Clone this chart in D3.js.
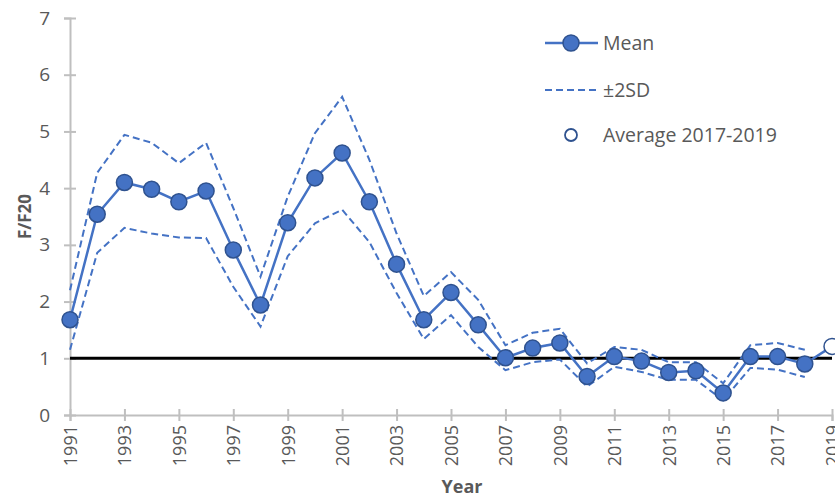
<!DOCTYPE html>
<html>
<head>
<meta charset="utf-8">
<script src="https://cdn.jsdelivr.net/npm/d3@7"></script>
<style>
  html, body { margin: 0; padding: 0; background: #fff; overflow: hidden; }
  svg { display: block; }
  text { font-family: "Open Sans", Arial, sans-serif; fill: #595959; }
</style>
</head>
<body>
<div id="chart"></div>
<script>
// datos
const years = d3.range(1991, 2020);
const meanValues = [1.68, 3.54, 4.10, 3.98, 3.76, 3.95, 2.91, 1.94, 3.39, 4.18,
  4.62, 3.76, 2.66, 1.68, 2.16, 1.59, 1.01, 1.18, 1.27, 0.68,
  1.03, 0.95, 0.75, 0.78, 0.39, 1.03, 1.03, 0.90, 1.21];
const upperValues = [2.2, 4.27, 4.94, 4.8, 4.44, 4.8, 3.65, 2.44, 3.85, 4.97,
  5.61, 4.5, 3.2, 2.1, 2.52, 2.03, 1.23, 1.45, 1.52, 0.91,
  1.2, 1.15, 0.93, 0.93, 0.56, 1.23, 1.27, 1.15];
const lowerValues = [1.15, 2.86, 3.3, 3.2, 3.13, 3.12, 2.26, 1.56, 2.8, 3.38,
  3.62, 3.05, 2.15, 1.34, 1.76, 1.2, 0.79, 0.93, 0.98, 0.5,
  0.85, 0.76, 0.62, 0.62, 0.26, 0.83, 0.8, 0.67];
const averageYear = 2019;
const referenceLevel = 1;
const yTicks = [0, 1, 2, 3, 4, 5, 6, 7];
const xTicks = d3.range(1991, 2020, 2);
const legendLabels = ["Mean", "±2SD", "Average 2017-2019"];

const width = 835, height = 500;
const margin = { top: 18, right: 3, bottom: 85, left: 70 };
const innerWidth = width - margin.left - margin.right;
const innerHeight = height - margin.top - margin.bottom;

const blue = "#4472C4", darkBlue = "#2F528F", axisGray = "#BFBFBF";

const svg = d3.select("#chart").append("svg")
  .attr("width", width).attr("height", height);

const g = svg.append("g")
  .attr("transform", `translate(${margin.left},${margin.top})`);

// escalas
const xScale = d3.scaleLinear().domain([1991, 2019]).range([0, 762]);
const yScale = d3.scaleLinear().domain([0, 7]).range([innerHeight, 0]);

// eje Y
const yAxis = g.append("g")
  .call(d3.axisLeft(yScale).tickValues(yTicks).tickFormat(d3.format("d")).tickSize(6).tickPadding(14));
yAxis.select(".domain").attr("stroke", axisGray).attr("stroke-width", 2);
yAxis.selectAll(".tick line").attr("stroke", axisGray).attr("stroke-width", 2).attr("x2", 6).attr("x1", -6);
yAxis.selectAll(".tick text").style("font-size", "19px").attr("fill", "#595959");

// eje X
const xAxis = g.append("g")
  .attr("transform", `translate(0,${innerHeight})`)
  .call(d3.axisBottom(xScale).tickValues(xTicks).tickFormat(d3.format("d")).tickSize(6));
xAxis.select(".domain").attr("stroke", axisGray).attr("stroke-width", 2);
xAxis.selectAll(".tick line").attr("stroke", axisGray).attr("stroke-width", 2).attr("y1", -6).attr("y2", 6);
xAxis.selectAll(".tick text")
  .style("font-size", "18px")
  .attr("fill", "#595959")
  .attr("text-anchor", "end")
  .attr("dy", "0.35em")
  .attr("transform", "translate(0,4) rotate(-90)")
  .attr("x", -6).attr("y", 0);

// titulos de ejes
svg.append("text")
  .attr("transform", `translate(25,${margin.top + innerHeight / 2}) rotate(-90)`)
  .attr("text-anchor", "middle")
  .attr("dy", "0.35em")
  .style("font-size", "17px").style("font-weight", "bold")
  .text("F/F20");

svg.append("text")
  .attr("x", 462).attr("y", 493)
  .attr("text-anchor", "middle")
  .style("font-size", "18px").style("font-weight", "bold")
  .text("Year");

// linea de referencia
g.append("line")
  .attr("x1", xScale(1991)).attr("x2", xScale(2019))
  .attr("y1", yScale(referenceLevel)).attr("y2", yScale(referenceLevel))
  .attr("stroke", "#000").attr("stroke-width", 3);

// bandas +-2SD
const band = d3.line().x((d, i) => xScale(years[i])).y(d => yScale(d));
[upperValues, lowerValues].forEach(vals => {
  g.append("path")
    .attr("d", band(vals))
    .attr("fill", "none")
    .attr("stroke", blue).attr("stroke-width", 2)
    .attr("stroke-dasharray", "7,4");
});

// linea media
const meanLine = d3.line().x((d, i) => xScale(years[i])).y(d => yScale(d));
g.append("path")
  .attr("d", meanLine(meanValues))
  .attr("fill", "none")
  .attr("stroke", blue).attr("stroke-width", 2.5);

// puntos
g.selectAll("circle.mean")
  .data(meanValues.map((v, i) => ({ year: years[i], value: v })))
  .enter().append("circle")
  .attr("class", "mean")
  .attr("cx", d => xScale(d.year))
  .attr("cy", d => yScale(d.value))
  .attr("r", 8)
  .attr("fill", d => d.year === averageYear ? "#fff" : blue)
  .attr("stroke", darkBlue).attr("stroke-width", 1.5);

// leyenda
const legend = svg.append("g").attr("transform", "translate(545,0)");
const legendY = [43, 90, 135];

legend.append("line").attr("x1", 0).attr("x2", 53).attr("y1", legendY[0]).attr("y2", legendY[0])
  .attr("stroke", blue).attr("stroke-width", 2.5);
legend.append("circle").attr("cx", 26).attr("cy", legendY[0]).attr("r", 8)
  .attr("fill", blue).attr("stroke", darkBlue).attr("stroke-width", 1.5);
legend.append("line").attr("x1", 0).attr("x2", 53).attr("y1", legendY[1]).attr("y2", legendY[1])
  .attr("stroke", blue).attr("stroke-width", 2).attr("stroke-dasharray", "7,4");
legend.append("circle").attr("cx", 26).attr("cy", legendY[2]).attr("r", 6)
  .attr("fill", "#fff").attr("stroke", darkBlue).attr("stroke-width", 1.8);

legend.selectAll("text.lbl")
  .data(legendLabels)
  .enter().append("text")
  .attr("class", "lbl")
  .attr("x", 58)
  .attr("y", (d, i) => legendY[i])
  .attr("dy", "0.35em")
  .style("font-size", "19.5px")
  .text(d => d);
</script>
</body>
</html>
